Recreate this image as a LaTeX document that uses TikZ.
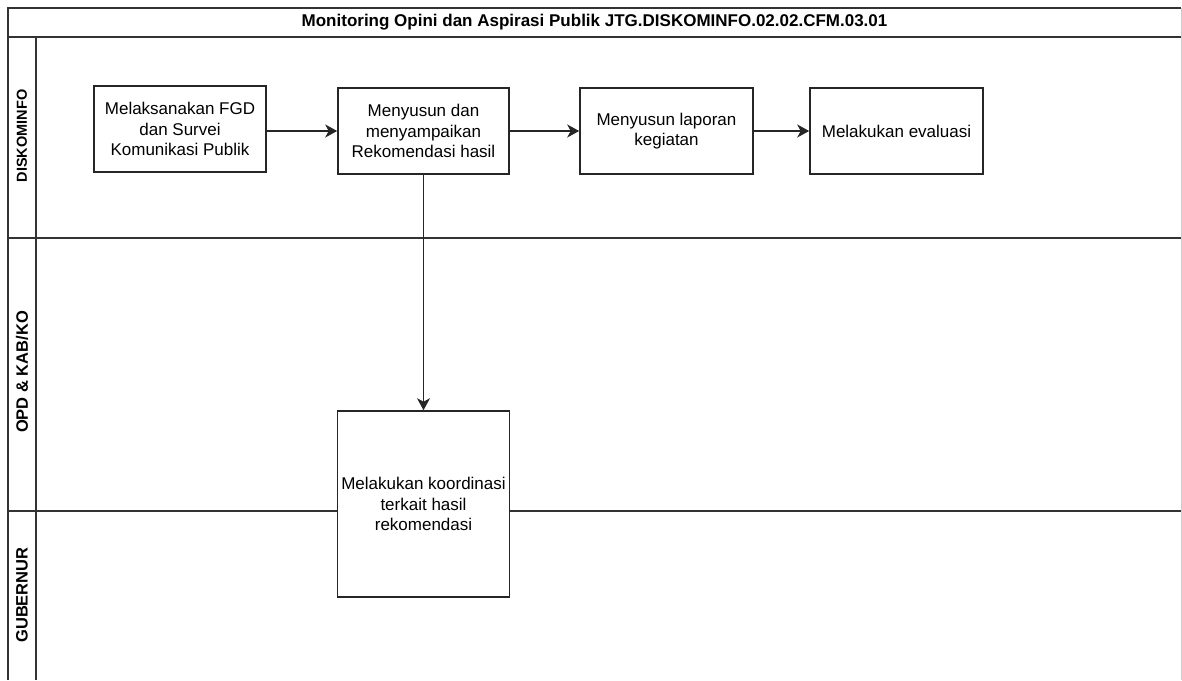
\documentclass[tikz,border=0pt]{standalone}
\usepackage{fontspec}
\setmainfont{Liberation Sans}
\usetikzlibrary{arrows.meta}

\tikzset{
	garis/.style={draw=black!80, line width=1.6pt},
	proses/.style={draw=black!85, fill=white, line width=1.6pt, align=center, inner sep=0pt, font=\fontsize{17}{20.5}\selectfont},
	jalur/.style={rotate=90, font=\fontsize{16.5}{18}\selectfont\bfseries},
	panah/.style={-{Stealth[length=12pt, width=13pt, inset=3.5pt]}, draw=black!85, line width=1.6pt},
}

\begin{document}
\begin{tikzpicture}[x=1pt, y=-1pt]
	\useasboundingbox (0,0) rectangle (1182,680);
	\def\xKiri{8}
	\def\xKolom{36}
	\def\xKanan{1181}
	\def\yBawah{680}
	
	%Judul
	\draw[garis] (\xKanan,8) -- (\xKiri,8) -- (\xKiri,\yBawah);
	\draw[garis] (\xKiri,37) -- (\xKanan,37);
	\draw[black!20, line width=1pt] (\xKanan,8) -- (\xKanan,\yBawah);
	\node[font=\fontsize{17}{18}\selectfont\bfseries] (judul) at ({(\xKiri+\xKanan)/2}, 22.5) {Monitoring Opini dan Aspirasi Publik JTG.DISKOMINFO.02.02.CFM.03.01};
	
	%Jalur
	\draw[garis] (\xKolom,37) -- (\xKolom,\yBawah);
	\draw[garis] (\xKiri,238) -- (\xKanan,238);
	\draw[garis] (\xKiri,511) -- (\xKanan,511);
	\node[jalur, font=\fontsize{14.5}{18}\selectfont\bfseries] (diskominfo) at (22,136) {DISKOMINFO};
	\node[jalur] (opd) at (22,372) {OPD \& KAB/KO};
	\node[jalur] (gubernur) at (22,595) {GUBERNUR};
	
	%Proses
	\node[proses, minimum width=172pt, minimum height=86pt] (fgd) at (180,129) {Melaksanakan FGD\\dan Survei\\Komunikasi Publik};
	\node[proses, minimum width=171pt, minimum height=86pt] (rekom) at (423.5,131) {Menyusun dan\\menyampaikan\\Rekomendasi hasil};
	\node[proses, minimum width=173pt, minimum height=86pt] (laporan) at (666.5,131) {Menyusun laporan\\kegiatan};
	\node[proses, minimum width=173pt, minimum height=86pt] (evaluasi) at (896.5,131) {Melakukan evaluasi};
	\node[proses, minimum width=172pt, minimum height=186pt] (koordinasi) at (423.5,504) {Melakukan koordinasi\\terkait hasil\\rekomendasi};
	
	\draw[panah] (fgd.east |- rekom.west) -- (rekom.west);
	\draw[panah] (rekom) -- (laporan);
	\draw[panah] (laporan) -- (evaluasi);
	\draw[panah] (rekom) -- (koordinasi);
	
\end{tikzpicture}
\end{document}
